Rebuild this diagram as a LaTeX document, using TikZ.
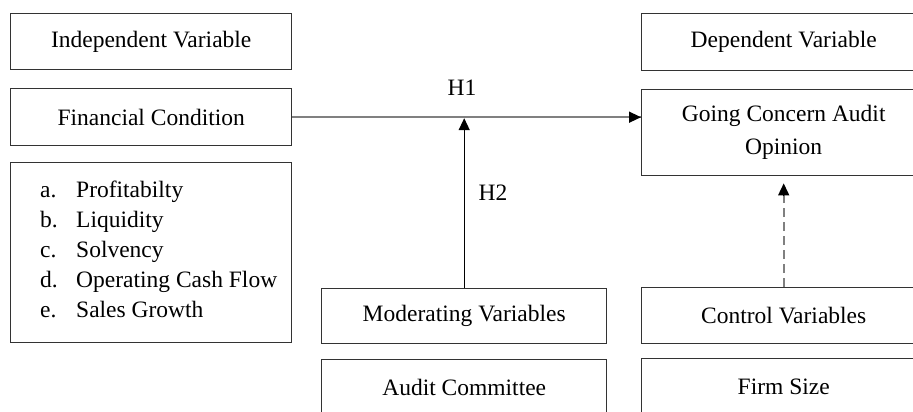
\documentclass[tikz,border=0pt]{standalone}
\usepackage{fontspec}
\setmainfont{Liberation Serif}
\usetikzlibrary{arrows.meta}
\begin{document}
\begin{tikzpicture}[x=1pt,y=-1pt,
  box/.style={draw=black!80,line width=1.4pt,inner sep=0pt,anchor=north west,
    align=center,font=\fontsize{23.5}{33}\selectfont},
  lbl/.style={font=\fontsize{23.5}{33}\selectfont,inner sep=0pt},
  item/.style={font=\fontsize{23.5}{30}\selectfont,inner sep=0pt,anchor=base west},
  tip/.style={-{Triangle[length=12pt,width=11pt]}}
]
\useasboundingbox (0,0) rectangle (913,412);
\clip (0,0) rectangle (913,412);
\node[box,minimum width=281pt,minimum height=56pt] (indep) at (10,13) {Independent Variable};
\node[box,minimum width=281pt,minimum height=57pt] (fin) at (10,88) {Financial Condition};
\node[box,minimum width=281pt,minimum height=180pt] (list) at (10,162) {};
\node[box,minimum width=284pt,minimum height=57pt] (dep) at (641,13) {Dependent Variable};
\node[box,minimum width=284pt,minimum height=86pt] (gc) at (641,89) {Going Concern Audit\\Opinion};
\node[box,minimum width=285pt,minimum height=55pt] (mod) at (321,288) {Moderating Variables};
\node[box,minimum width=285pt,minimum height=56pt] (aud) at (321,359) {Audit Committee};
\node[box,minimum width=284pt,minimum height=56pt] (ctrl) at (641,287) {Control Variables};
\node[box,minimum width=284pt,minimum height=56pt] (firm) at (641,358) {Firm Size};
% list items
\node[item] (la) at (40,197) {a.};
\node[item] (ta) at (76,197) {Profitabilty};
\node[item] (lb) at (40,227) {b.};
\node[item] (tb) at (76,227) {Liquidity};
\node[item] (lc) at (40,257) {c.};
\node[item] (tc) at (76,257) {Solvency};
\node[item] (ld) at (40,287) {d.};
\node[item] (td) at (76,287) {Operating Cash Flow};
\node[item] (le) at (40,317) {e.};
\node[item] (te) at (76,317) {Sales Growth};
% connectors
\coordinate (gcin) at (fin.east -| gc.west);
\coordinate (meet) at (fin.east -| mod.north);
\draw[gray,line width=2pt] (fin.east) -- (gcin);
\draw[tip,black,line width=1.5pt] ([xshift=-12pt]gcin) -- (gcin);
\draw[tip,black,line width=1.4pt] (mod.north) -- ([yshift=-1pt]meet);
\coordinate (dtip) at ([yshift=-7pt]gc.south);
\draw[gray,line width=2pt,dash pattern=on 9pt off 5pt] (ctrl.north) -- ([yshift=-12pt]dtip);
\draw[tip,black,line width=1.5pt] ([yshift=-12pt]dtip) -- (dtip);
\node[lbl] (h1) at (462,88) {H1};
\node[lbl] (h2) at (493,193) {H2};
\end{tikzpicture}
\end{document}
